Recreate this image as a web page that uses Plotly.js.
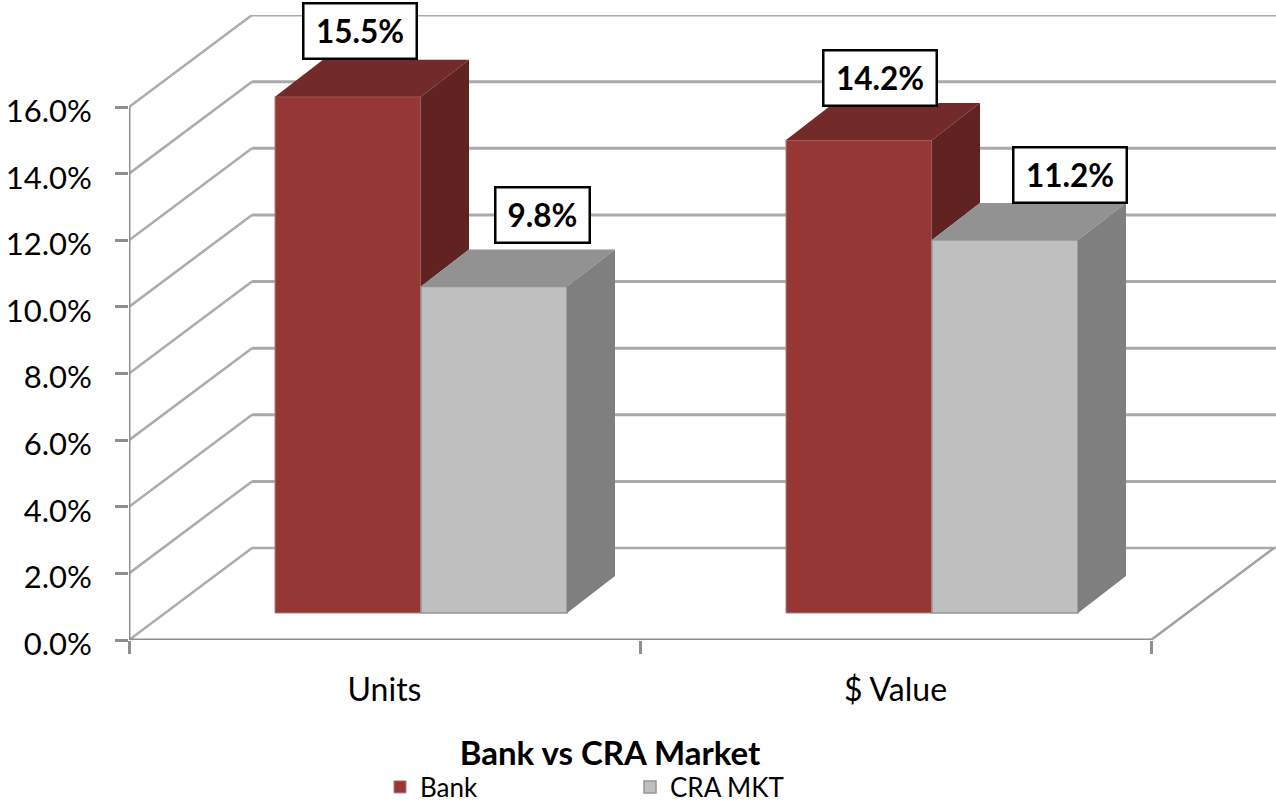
<!DOCTYPE html>
<html><head><meta charset="utf-8">
<script src="https://cdn.plot.ly/plotly-3.0.1.min.js"></script>
<style>html,body{margin:0;padding:0;background:#fff}#c{width:1276px;height:804px}</style>
</head><body><div id="c"></div>
<script>
const categories = ['Units', '$ Value'];
const categoryCenters = [0.5, 1.5];
const bankValues = [15.5, 14.2];
const craValues = [9.8, 11.2];
const bankLabels = ['15.5%', '14.2%'];
const craLabels = ['9.8%', '11.2%'];
const yTicks = [0, 2, 4, 6, 8, 10, 12, 14, 16];
const yTickText = ['0.0%', '2.0%', '4.0%', '6.0%', '8.0%', '10.0%', '12.0%', '14.0%', '16.0%'];
const xBoundaries = [0, 1, 2];

// 3-D look, in axis units
const W = 1276, H = 804, L = 129, T = 15, B = 640;
const xUnit = 511, yUnit = 33.31;
const wallDx = 123 / xUnit, wallDy = 92 / yUnit;
const barDx = 48 / xUnit, barDy = 37 / yUnit;
const floorDx = 1 / 14, floorDy = 27 / yUnit;
const barW = 2 / 7;
const xMax = (W - L) / xUnit, yMax = (B - T) / yUnit;
const barCenters = categoryCenters.map(c => c + floorDx);

const colors = {
  bank: {front: '#953735', top: '#722a2a', side: '#612321'},
  cra: {front: '#bfbfbf', top: '#929292', side: '#7f7f7f'}
};
const gridColor = '#aaaaaa', axisColor = '#8f8f8f';

function poly(xs, ys, color) {
  return {x: xs, y: ys, type: 'scatter', mode: 'lines', fill: 'toself', fillcolor: color,
    line: {width: 0, color: color}, hoverinfo: 'skip', showlegend: false, cliponaxis: false};
}
const traces = [
  {type: 'bar', name: 'Bank', x: barCenters, y: bankValues, base: bankValues.map(() => floorDy),
    marker: {color: colors.bank.front, line: {color: '#b57a7a', width: 1}}, hoverinfo: 'skip'},
  {type: 'bar', name: 'CRA MKT', x: barCenters, y: craValues, base: craValues.map(() => floorDy),
    marker: {color: colors.cra.front, line: {color: '#969696', width: 1.5}}, hoverinfo: 'skip'}
];
barCenters.forEach((c, i) => {
  const bTop = bankValues[i] + floorDy, cTop = craValues[i] + floorDy;
  const bl = c - barW, m = c, cr = c + barW;
  traces.push(poly([bl, m, m + barDx, bl + barDx, bl], [bTop, bTop, bTop + barDy, bTop + barDy, bTop], colors.bank.top));
  traces.push(poly([m, m + barDx, m + barDx, m, m], [bTop, bTop + barDy, cTop + barDy, cTop, bTop], colors.bank.side));
  traces.push(poly([m, cr, cr + barDx, m + barDx, m], [cTop, cTop, cTop + barDy, cTop + barDy, cTop], colors.cra.top));
  traces.push(poly([cr, cr + barDx, cr + barDx, cr, cr], [cTop, cTop + barDy, floorDy + barDy, floorDy, cTop], colors.cra.side));
});
// axis lines: not clipped at the plot edge
[[[0, 0], [0, 16]], [[0, 2], [0, 0]]].forEach(([xs, ys]) => traces.push({x: xs, y: ys, type: 'scatter', mode: 'lines',
  line: {color: axisColor, width: 3}, hoverinfo: 'skip', showlegend: false, cliponaxis: false}));

const shapes = [];
yTicks.forEach(v => {
  shapes.push({type: 'line', layer: 'below', xref: 'x', yref: 'y', x0: wallDx, x1: xMax, y0: v + wallDy, y1: v + wallDy,
    line: {color: gridColor, width: v === 0 ? 2.5 : 3}});
  shapes.push({type: 'line', layer: 'below', xref: 'x', yref: 'y', x0: 0, x1: wallDx, y0: v, y1: v + wallDy, line: {color: '#acacac', width: 2.5}});
});
shapes.push({type: 'line', layer: 'below', xref: 'x', yref: 'y', x0: 2, x1: 2 + wallDx, y0: 0, y1: wallDy, line: {color: '#a0a0a0', width: 2.5}});

const labelOffsetsPx = {bank: [[12, 66], [21, 62]], cra: [[48.5, 71.5], [65, 65]]};
const annotations = [];
function label(txt, xv, yv, off, w) {
  annotations.push({text: '<b>' + txt + '</b>', xref: 'x', yref: 'y', x: xv + off[0] / xUnit, y: yv + off[1] / yUnit,
    xanchor: 'center', yanchor: 'middle', showarrow: false, bgcolor: '#fff', bordercolor: '#000', borderwidth: 2.5,
    width: w, height: 51, align: 'center', valign: 'middle', font: {family: 'Lato', size: 31.5, color: '#000'}});
}
barCenters.forEach((c, i) => {
  label(bankLabels[i], c - barW / 2, bankValues[i] + floorDy, labelOffsetsPx.bank[i], 109);
  label(craLabels[i], c + barW / 2, craValues[i] + floorDy, labelOffsetsPx.cra[i], i === 0 ? 90 : 109);
});

const layout = {
  width: W, height: H, paper_bgcolor: '#fff', plot_bgcolor: 'rgba(0,0,0,0)',
  margin: {l: L, r: 0, t: T, b: H - B, pad: 0},
  font: {family: 'Lato', color: '#000'},
  title: {text: '<b>Bank vs CRA Market</b>', font: {family: 'Lato', size: 33, color: '#000'},
    xref: 'container', yref: 'container', x: 610 / W, xanchor: 'center', y: 1 - 753 / H, yanchor: 'middle'},
  barmode: 'group', bargap: 3 / 7, bargroupgap: 0,
  xaxis: {range: [0, xMax], tickmode: 'array', tickvals: categoryCenters, ticktext: categories,
    ticks: '', showgrid: false, zeroline: false, showline: false, tickfont: {family: 'Lato', size: 32, color: '#000'},
    ticklabelstandoff: 28,
    minor: {tickmode: 'array', tickvals: xBoundaries, ticks: 'outside', ticklen: 13, tickcolor: axisColor, tickwidth: 2.5, showgrid: false}},
  yaxis: {range: [0, yMax], tickmode: 'array', tickvals: yTicks, ticktext: yTickText, ticks: 'outside', ticklen: 13,
    tickcolor: axisColor, tickwidth: 2.5, showgrid: false, zeroline: false, showline: false,
    tickfont: {family: 'Lato', size: 31, color: '#000'}, ticklabelstandoff: 17, ticklabelshift: 4},
  shapes, annotations,
  showlegend: true,
  legend: {orientation: 'h', xref: 'container', yref: 'container', x: 380 / W, xanchor: 'left', y: 1 - 787 / H, yanchor: 'middle',
    entrywidth: 205, entrywidthmode: 'pixels', font: {family: 'Lato', size: 26, color: '#000'}, bgcolor: 'rgba(0,0,0,0)', traceorder: 'normal', itemwidth: 30}
};
Plotly.newPlot('c', traces, layout, {displayModeBar: false, responsive: false});
</script></body></html>
